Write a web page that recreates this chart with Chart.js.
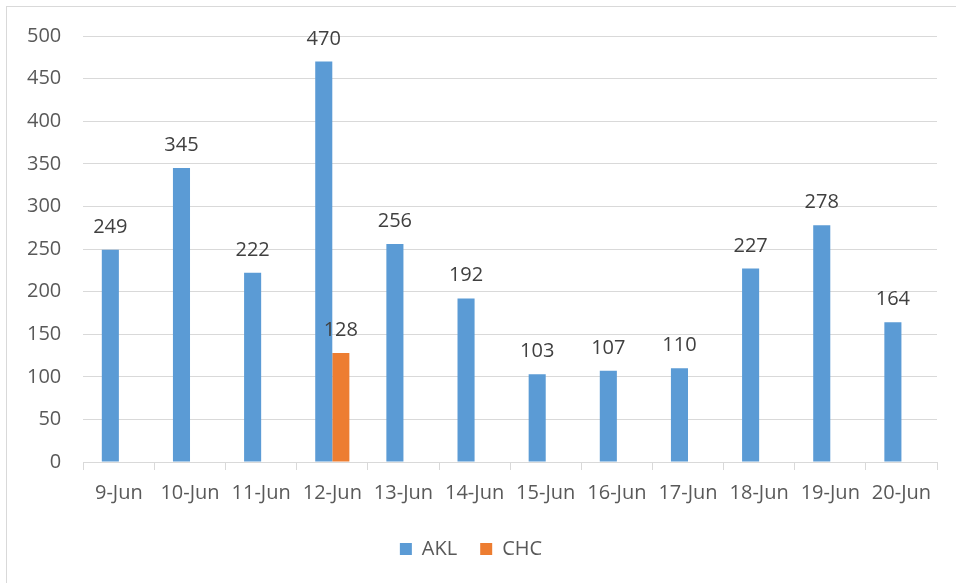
<!DOCTYPE html>
<html>
<head>
<meta charset="utf-8">
<script src="https://cdn.jsdelivr.net/npm/chart.js@4"></script>
<style>
    html, body { margin: 0; padding: 0; background: #fff; overflow: hidden; }
    #wrap { position: absolute; left: 6px; top: 6px; width: 960px; height: 590px; border: 1px solid #d9d9d9; box-sizing: border-box; }
    #chart { position: absolute; left: -6px; top: -6px; }
</style>
</head>
<body>
<div id="wrap"><canvas id="chart" width="956" height="583"></canvas></div>
<script>
const days = ["9-Jun", "10-Jun", "11-Jun", "12-Jun", "13-Jun", "14-Jun", "15-Jun", "16-Jun", "17-Jun", "18-Jun", "19-Jun", "20-Jun"];
const akl = [249, 345, 222, 470, 256, 192, 103, 107, 110, 227, 278, 164];
const chc = [null, null, null, 128, null, null, null, null, null, null, null, null];
const yTicks = [0, 50, 100, 150, 200, 250, 300, 350, 400, 450, 500];

const font = "'Open Sans', 'Liberation Sans', sans-serif";
const fs = 20;

// simple value labels above each bar
const barLabels = {
    id: "barLabels",
    afterDatasetsDraw(chart) {
        const ctx = chart.ctx;
        ctx.save();
        ctx.font = fs + "px " + font;
        ctx.fillStyle = "#404040";
        ctx.textAlign = "center";
        ctx.textBaseline = "alphabetic";
        chart.data.datasets.forEach((ds, i) => {
            chart.getDatasetMeta(i).data.forEach((bar, j) => {
                if (ds.data[j] == null) return;
                ctx.fillText(String(ds.data[j]), bar.x, bar.y - 17);
            });
        });
        ctx.restore();
    },
};

new Chart(document.getElementById("chart"), {
    type: "bar",
    data: {
        labels: days,
        datasets: [
            { label: "AKL", data: akl, backgroundColor: "#5b9bd5" },
            { label: "CHC", data: chc, backgroundColor: "#ed7d31" },
        ],
    },
    options: {
        responsive: false,
        animation: false,
        categoryPercentage: 0.48,
        barPercentage: 1,
        layout: { padding: { top: 35, right: 20, left: 4, bottom: 15 } },
        plugins: {
            legend: {
                position: "bottom",
                labels: { font: { size: fs, family: font }, color: "#595959", boxWidth: 12, boxHeight: 12, padding: 23 },
            },
            tooltip: { enabled: false },
        },
        scales: {
            x: {
                grid: { offset: true, drawOnChartArea: false, drawTicks: true, tickLength: 8, color: "#d9d9d9" },
                border: { color: "#d9d9d9" },
                ticks: { font: { size: fs, family: font }, color: "#595959", maxRotation: 0, padding: 11 },
            },
            y: {
                min: 0,
                max: 500,
                afterBuildTicks: (axis) => { axis.ticks = yTicks.map((v) => ({ value: v })); },
                grid: { color: "#d9d9d9", drawTicks: false },
                border: { display: false },
                ticks: { font: { size: fs, family: font }, color: "#595959", padding: 22 },
            },
        },
    },
    plugins: [barLabels],
});
</script>
</body>
</html>
